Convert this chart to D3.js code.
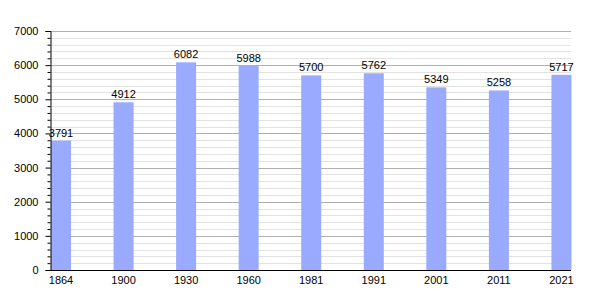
<!DOCTYPE html>
<html>
<head>
<meta charset="utf-8">
<script src="https://cdn.jsdelivr.net/npm/d3@7"></script>
<style>
  body { margin: 0; background: #fff; }
  text { font-family: "Liberation Sans", Arial, sans-serif; font-size: 11px; fill: #000; }
</style>
</head>
<body>
<div class="chart"></div>
<script>
// Population bar chart

var years = ["1864", "1900", "1930", "1960", "1981", "1991", "2001", "2011", "2021"];
var population = [3791, 4912, 6082, 5988, 5700, 5762, 5349, 5258, 5717];
var majorTicks = [0, 1000, 2000, 3000, 4000, 5000, 6000, 7000];

var svgWidth = 600, svgHeight = 300;
var margin = { top: 31, right: 29, bottom: 30, left: 50 };
var width = svgWidth - margin.left - margin.right;
var height = svgHeight - margin.top - margin.bottom;

var svg = d3.select(".chart")
  .append("svg")
  .attr("width", svgWidth)
  .attr("height", svgHeight);

var chartGroup = svg.append("g")
  .attr("transform", `translate(${margin.left}, ${margin.top})`);

var yScale = d3.scaleLinear()
  .domain([0, 7000])
  .range([height, 0]);

var xScale = d3.scaleBand()
  .domain(years)
  .range([0, width + 42])
  .paddingInner(0);

var barWidth = 20;

// minor grid lines every 200
var minorTicks = d3.range(0, 7001, 200).filter(d => d % 1000 !== 0);
chartGroup.append("g")
  .selectAll("line")
  .data(minorTicks)
  .enter()
  .append("line")
  .attr("x1", 0)
  .attr("x2", width)
  .attr("y1", d => Math.round(yScale(d)) + 0.5)
  .attr("y2", d => Math.round(yScale(d)) + 0.5)
  .attr("stroke", "#e2e2e2");

// major grid lines
chartGroup.append("g")
  .selectAll("line")
  .data(majorTicks.slice(1))
  .enter()
  .append("line")
  .attr("x1", 0)
  .attr("x2", width)
  .attr("y1", d => Math.round(yScale(d)) + 0.5)
  .attr("y2", d => Math.round(yScale(d)) + 0.5)
  .attr("stroke", "#b0b0b0");

// bars
chartGroup.append("g")
  .selectAll("rect")
  .data(population)
  .enter()
  .append("rect")
  .attr("x", (d, i) => xScale(years[i]) + 1)
  .attr("y", d => yScale(d))
  .attr("width", barWidth)
  .attr("height", d => height - yScale(d))
  .attr("fill", "#99aaff");

// value labels
chartGroup.append("g")
  .selectAll("text")
  .data(population)
  .enter()
  .append("text")
  .attr("x", (d, i) => xScale(years[i]) + 1 + barWidth / 2)
  .attr("y", d => yScale(d) - 4)
  .attr("text-anchor", "middle")
  .text(d => d);

// y axis with minor ticks
var leftAxis = d3.axisLeft(yScale)
  .tickValues(majorTicks)
  .tickSize(5)
  .tickFormat(d3.format("d"));
var yAxis = chartGroup.append("g")
  .attr("transform", "translate(0.5, 0)")
  .call(leftAxis);
yAxis.selectAll(".tick text").attr("x", -12).attr("font-size", 11).attr("font-family", null);

var minorAxis = d3.axisLeft(yScale)
  .tickValues(minorTicks)
  .tickSize(3)
  .tickFormat("");
chartGroup.append("g")
  .attr("transform", "translate(0.5, 0)")
  .call(minorAxis)
  .select(".domain").remove();

// x axis
var bottomAxis = d3.axisBottom(xScale)
  .tickSize(0);
var xAxis = chartGroup.append("g")
  .attr("transform", `translate(0, ${height + 0.5})`)
  .call(bottomAxis);
xAxis.select(".domain").attr("d", `M0,0H${width}`);
xAxis.selectAll(".tick")
  .attr("transform", (d) => `translate(${xScale(d) + 1 + barWidth / 2}, 0)`);
xAxis.selectAll(".tick text").attr("y", 6).attr("dy", "0.71em").attr("font-size", 11).attr("font-family", null);
</script>
</body>
</html>
